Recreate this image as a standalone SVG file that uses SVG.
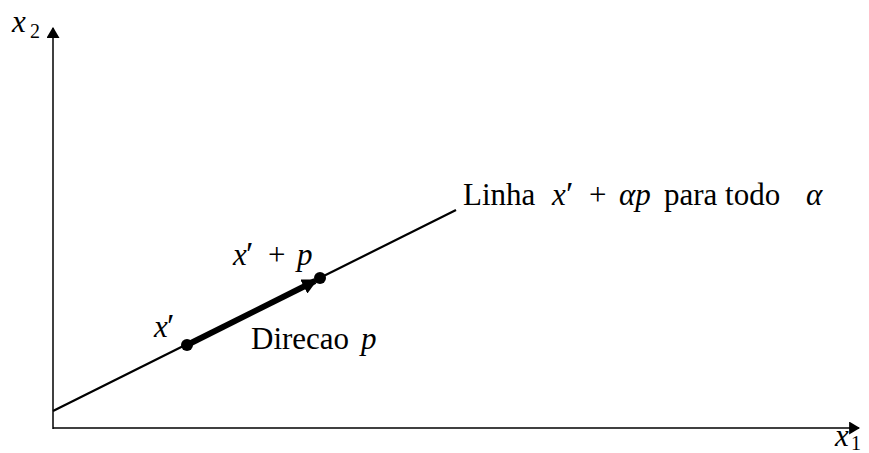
<svg xmlns="http://www.w3.org/2000/svg" width="869" height="453" viewBox="0 0 869 453">
<style>
text{font-family:"Liberation Serif","DejaVu Serif",serif;font-size:31px;fill:#000}
.m{font-style:italic}
.pr{font-size:34px}
.sub{font-size:20px}
.ax{stroke:#000;stroke-width:1.5;fill:none}
</style>
<defs>
<marker id="ah" viewBox="0 0 10 10" refX="9" refY="5" markerWidth="11" markerHeight="13" markerUnits="userSpaceOnUse" orient="auto" preserveAspectRatio="none">
<path d="M0,0 L10,5 L0,10 z" fill="#000"/>
</marker>
<marker id="ah2" viewBox="0 0 10 10" refX="8" refY="5" markerWidth="2.6" markerHeight="2.6" orient="auto">
<path d="M0,0 L10,5 L0,10 z" fill="#000"/>
</marker>
</defs>
<g id="connectors">
<line class="ax" x1="53" y1="429" x2="53" y2="28" marker-end="url(#ah)"/>
<line class="ax" x1="53" y1="428" x2="859" y2="428" marker-end="url(#ah)"/>
<line x1="53" y1="411" x2="456" y2="210" stroke="#000" stroke-width="2.2"/>
<line x1="187" y1="345" x2="315" y2="281" stroke="#000" stroke-width="6" marker-end="url(#ah2)"/>
</g>
<g id="axis-x2"><text x="12" y="32" class="m">x</text><text x="30" y="38" class="sub">2</text></g>
<g id="axis-x1"><text x="835" y="446" class="m">x</text><text x="851" y="450" class="sub">1</text></g>
<g id="pt-x"><circle cx="187" cy="345" r="6"/><text x="154" y="337" class="m">x</text><text x="167" y="337" class="pr">′</text></g>
<g id="pt-xp"><circle cx="320" cy="278" r="6"/><text x="233" y="265" class="m">x</text><text x="246" y="265" class="pr">′</text><text x="268" y="265">+</text><text x="297" y="265" class="m">p</text></g>
<g id="label-dir"><text x="251" y="349">Direcao</text><text x="361" y="349" class="m">p</text></g>
<g id="label-line"><text x="463" y="205">Linha</text><text x="552" y="205" class="m">x</text><text x="566" y="205" class="pr">′</text><text x="589" y="205">+</text><text x="619" y="205" class="m">αp</text><text x="664" y="205">para todo</text><text x="806" y="205" class="m">α</text></g>
</svg>
